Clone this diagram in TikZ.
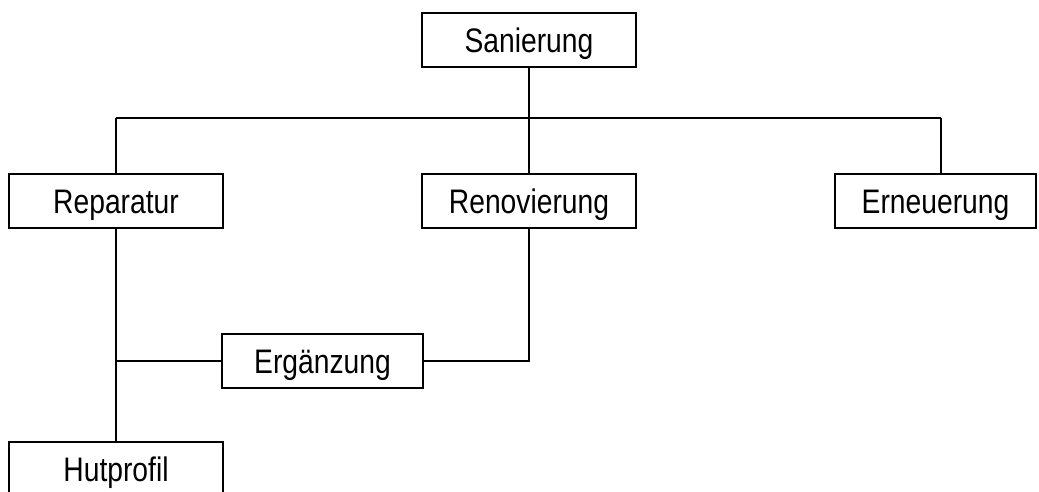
\documentclass[tikz,border=0pt]{standalone}
\usepackage{fontspec}
\setmainfont{Liberation Sans}
\usepackage{tikz}
\usetikzlibrary{calc}

\newcommand{\boxtext}[1]{\scalebox{0.83}[1]{#1}}

\tikzset{
	stage/.style={draw, line width=1.9pt, inner sep=0pt,
		minimum width=5.35cm, minimum height=1.35cm,
		text height=0.61cm, text depth=0cm,
		font=\fontsize{24.2}{29}\selectfont},
	link/.style={line width=1.8pt}
}

\begin{document}
\begin{tikzpicture}[x=0.025cm,y=-0.025cm]
		\useasboundingbox (0,0) rectangle (1039,492);
		\clip (0,0) rectangle (1039,492);
		
		\node[stage] (san) at (529,40) {\boxtext{Sanierung}};
		\node[stage] (rep) at (116,201) {\boxtext{Reparatur}};
		\node[stage] (ren) at (529,201) {\boxtext{Renovierung}};
		\node[stage, minimum width=5.03cm] (ern) at (935.5,201) {\boxtext{Erneuerung}};
		\node[stage, minimum width=5.03cm] (erg) at (322.5,361) {\boxtext{Ergänzung}};
		\node[stage] (hut) at (116,469) {\boxtext{Hutprofil}};
		
		% verteiler
		\coordinate (busL) at (116,118);
		\coordinate (busM) at (529,118);
		\coordinate (busR) at (941,118);
		\coordinate (junc) at (116,361);
		
		\draw[link] (san) -- (busM);
		\draw[link] (busL) -- (busR);
		\draw[link] (busL) -- (rep);
		\draw[link] (busM) -- (ren);
		\draw[link] (busR) -- (busR |- ern.north);
		\draw[link] (rep) -- (hut);
		\draw[link] (junc) -- (erg);
		\draw[link] (erg) -| (ren);
	\end{tikzpicture}
\end{document}
